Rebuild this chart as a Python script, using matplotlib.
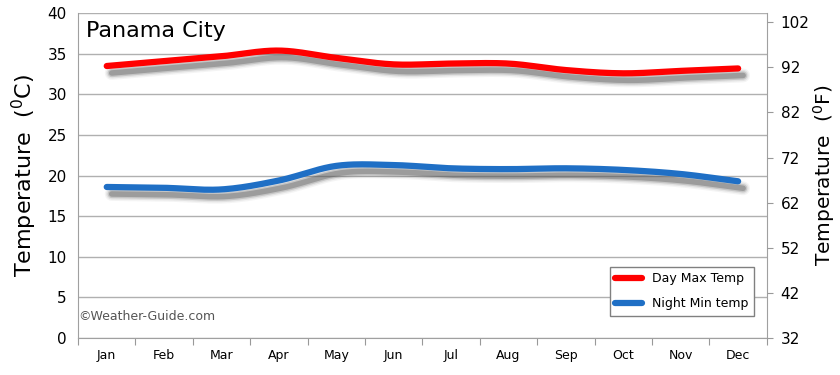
import matplotlib
matplotlib.use("Agg")
import matplotlib.pyplot as plt
import numpy as np
import matplotlib.transforms as mtransforms

months = ["Jan", "Feb", "Mar", "Apr", "May", "Jun",
          "Jul", "Aug", "Sep", "Oct", "Nov", "Dec"]
day_max = [33.5, 34.1, 34.7, 35.4, 34.5, 33.7, 33.8, 33.8, 33.0, 32.6, 32.9, 33.2]
night_min = [18.6, 18.5, 18.3, 19.4, 21.2, 21.3, 20.9, 20.8, 20.9, 20.7, 20.2, 19.3]
f_ticks = [32, 42, 52, 62, 72, 82, 92, 102]


def smooth(xs, ys, n=20):
    # Catmull-Rom curve through the data points (drawing only)
    x = np.asarray(xs, float)
    y = np.asarray(ys, float)
    px = np.concatenate([[2 * x[0] - x[1]], x, [2 * x[-1] - x[-2]]])
    py = np.concatenate([[2 * y[0] - y[1]], y, [2 * y[-1] - y[-2]]])
    ox, oy = [], []
    t = np.linspace(0, 1, n, endpoint=False)
    for i in range(1, len(px) - 2):
        for p, out in ((px, ox), (py, oy)):
            p0, p1, p2, p3 = p[i - 1], p[i], p[i + 1], p[i + 2]
            out.extend(0.5 * (2 * p1 + (-p0 + p2) * t
                              + (2 * p0 - 5 * p1 + 4 * p2 - p3) * t ** 2
                              + (-p0 + 3 * p1 - 3 * p2 + p3) * t ** 3))
    ox.append(x[-1])
    oy.append(y[-1])
    return np.array(ox), np.array(oy)


fig = plt.figure(figsize=(8.4, 3.75), dpi=100)
ax = fig.add_axes([0.0929, 0.0987, 0.820, 0.866])

xpos = np.arange(len(months)) + 0.5
shadow = mtransforms.offset_copy(ax.transData, fig=fig, x=5, y=-7, units="dots")

for vals, color, label in ((day_max, "#ff0000", "Day Max Temp"),
                           (night_min, "#1f6fc5", "Night Min temp")):
    sx, sy = smooth(xpos, vals)
    for lw, a in ((10, 0.06), (8, 0.1), (6, 0.2), (4, 0.35)):
        ax.plot(sx, sy, color="#505050", lw=lw, alpha=a, transform=shadow,
                solid_capstyle="round", zorder=2)
    ax.plot(sx, sy, color=color, lw=4.5, solid_capstyle="round", zorder=3,
            label=label)

ax.set_xlim(0, 12)
ax.set_ylim(0, 40)
ax.set_yticks(range(0, 41, 5))
ax.set_xticks(range(0, 13))
ax.set_xticklabels([])
ax.set_xticks(xpos, minor=True)
ax.set_xticklabels(months, minor=True, fontsize=9)
ax.tick_params(axis="x", which="minor", length=0, pad=8)
ax.tick_params(axis="x", which="major", length=5, direction="out", color="#999999")
ax.tick_params(axis="y", length=0, labelsize=11, pad=8)
ax.grid(axis="y", color="#b0b0b0", lw=1)
for s in ("left", "right", "bottom", "top"):
    ax.spines[s].set_color("#a0a0a0")
ax.spines["top"].set_visible(False)
ax.set_ylabel("Temperature  ($^0$C)", fontsize=16, labelpad=6)

ax2 = ax.twinx()
ax2.set_ylim(32, 32 + 40 * 1.8)
ax2.set_yticks(f_ticks)
ax2.tick_params(axis="y", length=4, color="#999999", labelsize=11, pad=6)
for s in ("left", "right", "bottom", "top"):
    ax2.spines[s].set_visible(False)
ax2.set_ylabel("Temperature  ($^0$F)", fontsize=14.5, labelpad=1, rotation=90)

ax.text(0.012, 0.975, "Panama City", transform=ax.transAxes, fontsize=16,
        va="top", ha="left", color="black")
ax.text(0.0, 0.065, "\u00a9Weather-Guide.com", transform=ax.transAxes,
        fontsize=9, color="#555555", va="center", ha="left")

leg = ax.legend(loc="lower right", bbox_to_anchor=(0.99, 0.05), fontsize=9,
                handlelength=2.2, labelspacing=1.0, fancybox=False,
                edgecolor="#808080", framealpha=1)
leg.get_frame().set_linewidth(1)

fig.savefig("out.png", dpi=100)
